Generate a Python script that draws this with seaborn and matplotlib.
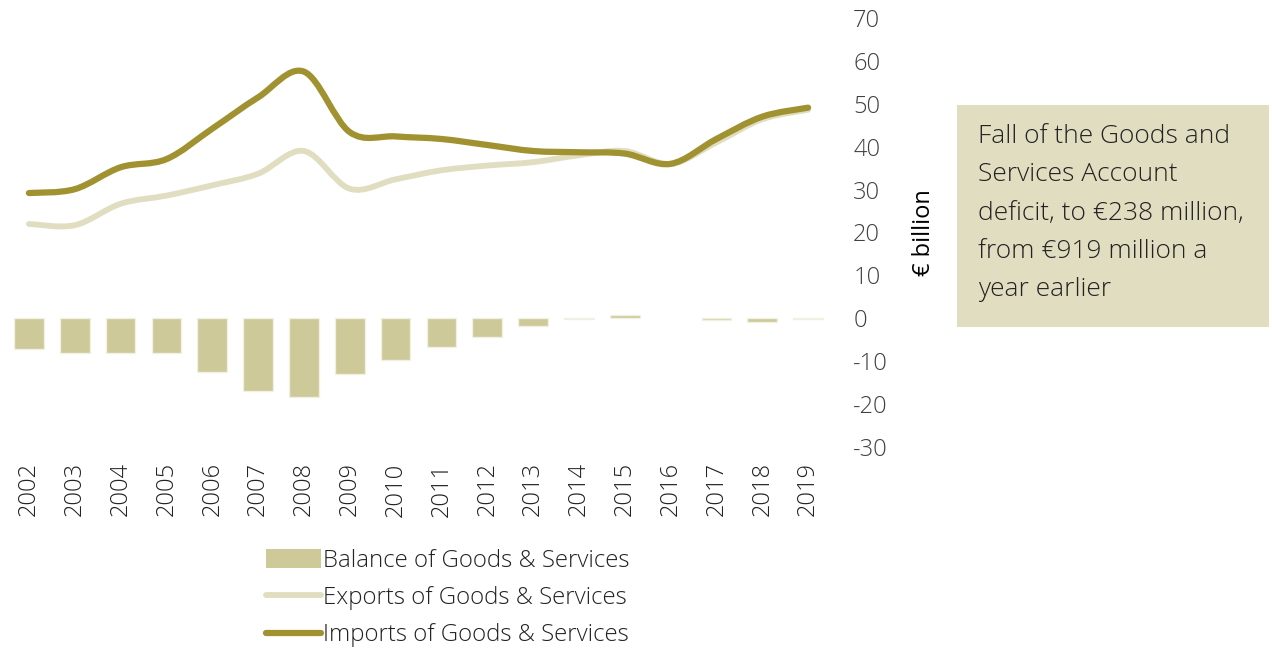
import numpy as np
import pandas as pd
import matplotlib
matplotlib.use("Agg")
import matplotlib.pyplot as plt
from matplotlib.path import Path
from matplotlib.patches import PathPatch, Patch, Rectangle
from matplotlib.lines import Line2D
import seaborn as sns

years = [str(y) for y in range(2002, 2020)]
balance = [-7.2, -8.2, -8.2, -8.2, -12.5, -17.0, -18.3, -12.9, -9.7, -6.7,
           -4.3, -1.9, -0.2, 0.7, 0.0, -0.3, -0.92, -0.24]
exports = [22.0, 21.7, 26.7, 28.6, 31.0, 33.7, 39.0, 30.2, 32.4, 34.5,
           35.6, 36.4, 38.0, 39.0, 36.0, 41.0, 46.4, 48.6]
imports = [29.2, 30.1, 35.2, 37.1, 44.2, 51.5, 57.5, 43.4, 42.4, 41.8,
           40.4, 39.0, 38.7, 38.4, 36.0, 41.8, 47.0, 49.1]
yticks = list(range(-30, 80, 10))
note = ("Fall of the Goods and\nServices Account\ndeficit, to \u20ac238 million,\n"
        "from \u20ac919 million a\nyear earlier")

bar_col = "#cdc998"
exp_col = "#e0ddc0"
imp_col = "#a09230"
txt_col = "#404040"

sns.set_style("white")
plt.rcParams["font.family"] = ["Open Sans", "DejaVu Sans"]
plt.rcParams["axes.unicode_minus"] = False

df = pd.DataFrame({"year": years, "balance": balance})

fig = plt.figure(figsize=(12.72, 6.48), dpi=100)
ax = fig.add_axes([6 / 1272, 201 / 648, 825 / 1272, 429 / 648])

sns.barplot(data=df, x="year", y="balance", order=years, color=bar_col,
            width=0.65, saturation=1, edgecolor="#f2f0e2", linewidth=1,
            ax=ax, zorder=1)
for bar, v in zip(ax.patches, balance):
    if v == 0:
        bar.set_linewidth(0)


def smooth_path(vals):
    # Excel-like smoothed line: cubic Bezier segments through each point
    pts = np.column_stack([np.arange(len(vals)), vals]).astype(float)
    ext = np.vstack([pts[0], pts, pts[-1]])
    verts = [pts[0]]
    codes = [Path.MOVETO]
    for i in range(len(pts) - 1):
        p0, p1, p2, p3 = ext[i], ext[i + 1], ext[i + 2], ext[i + 3]
        verts += [p1 + (p2 - p0) / 6, p2 - (p3 - p1) / 6, p2]
        codes += [Path.CURVE4] * 3
    return Path(verts, codes)


for vals, col, lw in [(exports, exp_col, 4.2), (imports, imp_col, 4.5)]:
    ax.add_patch(PathPatch(smooth_path(vals), fill=False, edgecolor=col,
                           lw=lw, capstyle="round", joinstyle="round", zorder=3))

ax.set_xlim(-0.5, len(years) - 0.5)
ax.set_ylim(-30, 70)
ax.set_yticks(yticks)
ax.yaxis.tick_right()
ax.yaxis.set_label_position("right")
ax.set_xlabel("")
ax.set_ylabel("\u20ac billion", fontsize=17, color="black", labelpad=17)
ax.tick_params(axis="y", length=0, pad=16, labelsize=17, labelcolor=txt_col)
ax.tick_params(axis="x", length=0, pad=11, labelsize=17, labelcolor="#222222",
               rotation=90)
for lab in ax.get_xticklabels() + ax.get_yticklabels():
    lab.set_fontweight("light")
sns.despine(ax=ax, left=True, right=True, top=True, bottom=True)
ax.grid(False)

handles = [Patch(facecolor=bar_col, edgecolor="none"),
           Line2D([], [], color=exp_col, lw=4.2, solid_capstyle="round"),
           Line2D([], [], color=imp_col, lw=4.5, solid_capstyle="round")]
labels = ["Balance of Goods & Services", "Exports of Goods & Services",
          "Imports of Goods & Services"]
leg = fig.legend(handles, labels, loc="upper left",
                 bbox_to_anchor=(266 / 1272, 1 - 549 / 648), frameon=False,
                 fontsize=17.3, handlelength=2.3, handleheight=0.8,
                 handletextpad=0.07, labelspacing=0.55, borderpad=0,
                 borderaxespad=0)
for t in leg.get_texts():
    t.set_color("#222222")
    t.set_fontweight("light")

fig.patches.append(Rectangle((957 / 1272, 1 - 327 / 648), 312 / 1272, 222 / 648,
                             transform=fig.transFigure, facecolor=exp_col,
                             edgecolor="none", zorder=0))
fig.text(978 / 1272, 1 - 124 / 648, note, fontsize=19, color="#222222",
         fontweight="light", va="top", ha="left", linespacing=1.7)

fig.savefig("out.png", dpi=100)
